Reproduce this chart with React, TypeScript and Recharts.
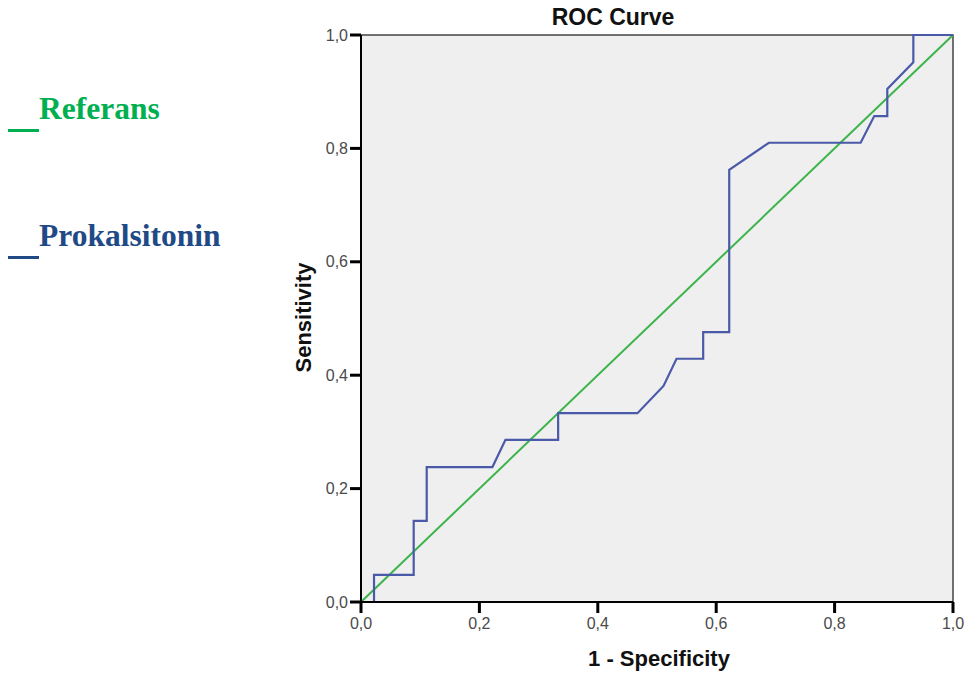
import React from 'react';
import { LineChart, Line, XAxis, YAxis, ReferenceArea, Legend, Label } from 'recharts';

const rocFpr = [0, 0.022, 0.022, 0.089, 0.089, 0.111, 0.111, 0.222, 0.244, 0.333, 0.333, 0.467, 0.511, 0.533, 0.578, 0.578, 0.622, 0.622, 0.689, 0.844, 0.867, 0.889, 0.889, 0.933, 0.933, 1];
const rocTpr = [0, 0, 0.048, 0.048, 0.143, 0.143, 0.238, 0.238, 0.286, 0.286, 0.333, 0.333, 0.381, 0.429, 0.429, 0.476, 0.476, 0.762, 0.81, 0.81, 0.857, 0.857, 0.905, 0.952, 1, 1];
const refFpr = [0, 1];
const refTpr = [0, 1];
const axisTicks = [0, 0.2, 0.4, 0.6, 0.8, 1];
const legendOrder = ['Referans', 'Prokalsitonin'];

const rocData = rocFpr.map((x, i) => ({ x, y: rocTpr[i] }));
const refData = refFpr.map((x, i) => ({ x, y: refTpr[i] }));

const legendColors: Record<string, string> = {
  Referans: '#00b050',
  Prokalsitonin: '#1f4a86',
};

const fmt = (v: number) => v.toFixed(1).replace('.', ',');

const sansFont = '"Liberation Sans", Arial, sans-serif';

const LegendContent = (props: any) => {
  const items = ([...(props.payload || [])] as any[]).sort(
    (a, b) => legendOrder.indexOf(a.value) - legendOrder.indexOf(b.value)
  );
  return (
    <div style={{ position: 'relative', width: 0, height: 0 }}>
      {items.map((it, i) => (
        <div key={it.value} style={{ position: 'absolute', left: 0, top: 92.5 + i * 127.7, height: 40, width: 300 }}>
          <div
            style={{
              position: 'absolute',
              left: 8,
              top: 36,
              width: 31,
              height: 3,
              background: legendColors[it.value] || it.color,
            }}
          />
          <div
            style={{
              position: 'absolute',
              left: 39,
              top: 0,
              fontFamily: '"Liberation Serif", "Times New Roman", serif',
              fontWeight: 'bold',
              fontSize: 31.5,
              lineHeight: '31px',
              whiteSpace: 'nowrap',
              color: legendColors[it.value] || it.color,
            }}
          >
            {it.value}
          </div>
        </div>
      ))}
    </div>
  );
};

export default function App() {
  return (
    <div style={{ position: 'absolute', left: 0, top: 0, width: 967, height: 677, background: '#fff' }}>
      <div
        style={{
          position: 'absolute',
          left: 513,
          top: 3,
          width: 200,
          textAlign: 'center',
          fontFamily: sansFont,
          fontWeight: 'bold',
          fontSize: 23,
          lineHeight: '28px',
          color: '#111',
        }}
      >
        ROC Curve
      </div>
      <LineChart
        width={967}
        height={677}
        margin={{ top: 35, right: 14, left: 301, bottom: 35 }}
      >
        <ReferenceArea
          x1={0}
          x2={1}
          y1={0}
          y2={1}
          fill="#efefef"
          fillOpacity={1}
          stroke="#444"
          strokeWidth={1.5}
        />
        <XAxis
          type="number"
          dataKey="x"
          domain={[0, 1]}
          ticks={axisTicks}
          tickFormatter={fmt}
          height={40}
          tickSize={11}
          tickMargin={5}
          axisLine={{ stroke: '#000', strokeWidth: 2 }}
          tickLine={{ stroke: '#000', strokeWidth: 3 }}
          tick={{ fill: '#4a4a4a', fontSize: 16, fontFamily: sansFont }}
          allowDuplicatedCategory={false}
        >
          <Label
            content={(p: any) => {
              const vb = p.viewBox || {};
              return (
                <text
                  x={vb.x + vb.width / 2 + 2}
                  y={vb.y + vb.height + 16}
                  textAnchor="middle"
                  dominantBaseline="central"
                  fontFamily={sansFont}
                  fontWeight="bold"
                  fontSize={22}
                  fill="#111"
                >
                  1 - Specificity
                </text>
              );
            }}
          />
        </XAxis>
        <YAxis
          type="number"
          domain={[0, 1]}
          ticks={axisTicks}
          tickFormatter={fmt}
          width={60}
          tickSize={11}
          tickMargin={2}
          axisLine={{ stroke: '#000', strokeWidth: 2 }}
          tickLine={{ stroke: '#000', strokeWidth: 3 }}
          tick={{ fill: '#4a4a4a', fontSize: 16, fontFamily: sansFont }}
        >
          <Label
            content={(p: any) => {
              const vb = p.viewBox || {};
              const cx = vb.x + 2;
              const cy = vb.y + vb.height / 2 - 1;
              return (
                <text
                  x={cx}
                  y={cy}
                  transform={`rotate(-90, ${cx}, ${cy})`}
                  textAnchor="middle"
                  dominantBaseline="central"
                  fontFamily={sansFont}
                  fontWeight="bold"
                  fontSize={22}
                  fill="#111"
                >
                  Sensitivity
                </text>
              );
            }}
          />
        </YAxis>
        <Line
          data={refData}
          dataKey="y"
          name="Referans"
          type="linear"
          stroke="#3cb44b"
          strokeWidth={2}
          dot={false}
          activeDot={false}
          isAnimationActive={false}
        />
        <Line
          data={rocData}
          dataKey="y"
          name="Prokalsitonin"
          type="linear"
          stroke="#4a5aa8"
          strokeWidth={2.2}
          dot={false}
          activeDot={false}
          isAnimationActive={false}
        />
        <Legend
          layout="vertical"
          align="center"
          verticalAlign="middle"
          content={<LegendContent />}
          wrapperStyle={{ position: 'absolute', left: 0, top: 0, width: 0, height: 0, overflow: 'visible' }}
        />
      </LineChart>
    </div>
  );
}
